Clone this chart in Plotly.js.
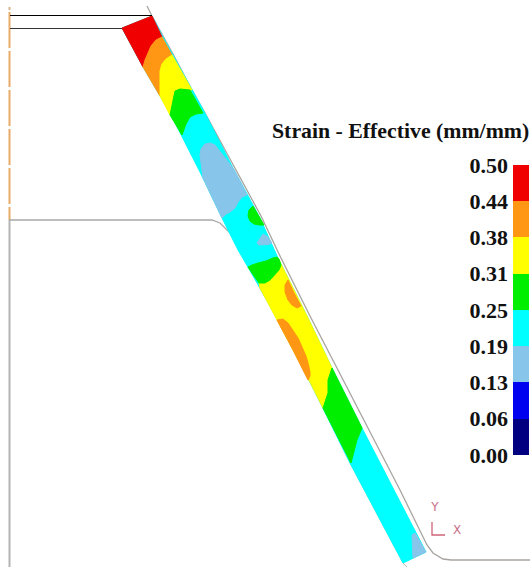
<!DOCTYPE html>
<html>
<head>
<meta charset="utf-8">
<script src="https://cdn.plot.ly/plotly-3.0.0.min.js"></script>
<style>html,body{margin:0;padding:0;background:#fff}#chart{width:530px;height:567px}</style>
</head>
<body>
<div id="chart"></div>
<script>
// Contour regions of the effective-strain field (section coordinates)
const stripX = [122,152,163,173,192,205,233,260,278,308,333,362,426,403,350,323,310,272,260,238,222,200,172,160,143];
const stripY = [28,16,37,55,90,113,168,218,258,318,370,428,552,563,463,408,382,310,288,250,218,172,117,96,67];
const redX = [122,152,162,156,151,148,145,143];
const redY = [28,16,37,40,46,53,60,67];
const orangeTopX = [162,172,166,162,160,160,160,143,145,148,151,156];
const orangeTopY = [37,55,59,64,71,83,96,67,60,53,46,40];
const yellowTopX = [172,192,180,175,173,170,160,160,160,162,166];
const yellowTopY = [55,90,89,91,100,115,96,83,71,64,59];
const greenTopX = [175,180,190,196,203,196,190,186,182,170,173];
const greenTopY = [91,89,90,100,113,114,117,124,135,115,100];
const skyMidX = [200,201,205,210,215,223,233,240,247,242,238,235,230,226,222,212,203];
const skyMidY = [155,149,144,143,145,155,168,181,195,197,202,208,212,214,218,197,178];
const greenDotX = [253,260,264,259,254,250,248,249];
const greenDotY = [206,218,225,225,224,221,216,210];
const skyDotX = [257,260,263,268,272,268,263,259];
const skyDotY = [243,238,234,237,243,244.5,245,245];
const greenMidX = [248,252,258,266,273,277,279,281,279,274,270,265,261,259,254];
const greenMidY = [267,265,263,261,258,257,259,265,270,275,280,283,283,283,276];
const yellowMidX = [278,308,332,328,328,323,310,272,260,259,265,274,281];
const yellowMidY = [258,318,368,380,393,408,382,310,288,283,283,275,265];
const orangeUpperX = [288,294,301,297,292,288,285,285];
const orangeUpperY = [280,293,306,308,305,300,292,285];
const orangeLowerX = [277,283,288,293,298,302,306,308,310,310,308,293];
const orangeLowerY = [320,319,323,330,338,347,356,363,372,376,380,350];
const greenLowX = [332,362,357,354,351,323,328,328];
const greenLowY = [368,428,440,452,463,408,393,380];
const skyEndX = [412,415,426,413];
const skyEndY = [535,533,552,558];

// Tool outlines
const dieX = [147,152,173,192,205,234,261,280,310,338,368,400,427,433,443,451,530];
const dieY = [6,16,54,90,113,167,216,256,316,370,428,490,545,553,559,560,560];
const punchX = [9,212,220,230,237,250,260,278];
const punchY = [220,220,223,233,245,268,288,320];
const flankX = [278,310,323,350,403,407];
const flankY = [320,382,408,463,563,567];
const axisLineX = [9.5,9.5];
const axisLineY = [220,567];
const symmetryX = [9.5,9.5];
const symmetryY = [12,220];
const symmetryTopX = [9.5,9.5];
const symmetryTopY = [7,10];
const blankTopX = [10,152];
const blankTopY = [15.5,15.5];
const blankBottomX = [10,122];
const blankBottomY = [28.5,28.5];
const triadX = [432,432,445];
const triadY = [522,535,535];

// Legend
const levels = [0,0.0625,0.125,0.1875,0.25,0.3125,0.375,0.4375,0.5];
const levelLabels = ['0.00','0.06','0.13','0.19','0.25','0.31','0.38','0.44','0.50'];
const bandColors = ['#000080','#0000f0','#87c5ea','#00ffff','#00ee00','#ffff00','#ff9614','#f00000'];
const titleText = 'Strain - Effective (mm/mm)';

const RED=bandColors[7], ORANGE=bandColors[6], YELLOW=bandColors[5], GREEN=bandColors[4], CYAN=bandColors[3], SKY=bandColors[2];

function region(x,y,color){
  return {type:'scatter',mode:'lines',x:x.concat(x[0]),y:y.concat(y[0]),fill:'toself',fillcolor:color,
    line:{color:color,width:1},hoverinfo:'skip'};
}
function stroke(x,y,color,width,dash){
  return {type:'scatter',mode:'lines',x:x,y:y,line:{color:color,width:width,dash:dash||'solid'},hoverinfo:'skip'};
}
const colorscale=[];
bandColors.forEach((c,i)=>{colorscale.push([i/bandColors.length,c]);colorscale.push([(i+1)/bandColors.length,c]);});

const traces=[
  stroke(axisLineX,axisLineY,'#b4b4b4',2),
  stroke(symmetryX,symmetryY,'#e8ab68',2,'36px,3px'),
  stroke(symmetryTopX,symmetryTopY,'#d9b48a',2),
  stroke(dieX,dieY,'#a8a4a0',1.3),
  stroke(punchX,punchY,'#a8a8a8',1.3),
  stroke(flankX,flankY,'#c4c2b4',1),
  region(stripX,stripY,CYAN),
  region(redX,redY,RED),
  region(orangeTopX,orangeTopY,ORANGE),
  region(yellowTopX,yellowTopY,YELLOW),
  region(greenTopX,greenTopY,GREEN),
  region(skyMidX,skyMidY,SKY),
  region(greenDotX,greenDotY,GREEN),
  region(skyDotX,skyDotY,SKY),
  region(yellowMidX,yellowMidY,YELLOW),
  region(greenMidX,greenMidY,GREEN),
  region(orangeUpperX,orangeUpperY,ORANGE),
  region(orangeLowerX,orangeLowerY,ORANGE),
  region(greenLowX,greenLowY,GREEN),
  region(skyEndX,skyEndY,SKY),
  stroke(blankTopX,blankTopY,'#000000',1.2),
  stroke(blankBottomX,blankBottomY,'#333333',1.2),
  stroke(triadX,triadY,'#cf6478',1.3),
  {type:'scatter',mode:'text',x:[435,457],y:[508,531],text:['Y','X'],
    textfont:{family:'DejaVu Sans, sans-serif',size:12,color:'#c87088'},textposition:'middle center',hoverinfo:'skip'},
  {type:'scatter',mode:'markers',x:[-50,-50],y:[-50,-50],
    marker:{size:1,opacity:0,color:[levels[0],levels[8]],cmin:levels[0],cmax:levels[8],colorscale:colorscale,showscale:true,
      colorbar:{thickness:16,thicknessmode:'pixels',len:290/567,lenmode:'fraction',
        x:513/530,xanchor:'left',xpad:0,y:1-165/567,yanchor:'top',ypad:0,
        outlinewidth:0,borderwidth:0,
        tickmode:'array',tickvals:levels,ticktext:levelLabels,
        ticks:'inside',ticklen:22,tickcolor:'rgba(0,0,0,0)',ticklabelposition:'inside',ticklabeloverflow:'allow',
        tickfont:{family:'Liberation Serif, serif',size:22,color:'#111111',weight:'bold'}}},
    hoverinfo:'skip'}
];

const layout={
  width:530,height:567,margin:{l:0,r:0,t:0,b:0,pad:0},paper_bgcolor:'#ffffff',plot_bgcolor:'#ffffff',showlegend:false,
  xaxis:{range:[0,530],visible:false,fixedrange:true},
  yaxis:{range:[567,0],visible:false,fixedrange:true},
  annotations:[{x:400,y:131,xref:'x',yref:'y',text:'<b>'+titleText+'</b>',showarrow:false,
    font:{family:'Liberation Serif, serif',size:21.8,color:'#111111'},xanchor:'center',yanchor:'middle'}]
};
Plotly.newPlot('chart',traces,layout,{displayModeBar:false,staticPlot:true});
</script>
</body>
</html>
